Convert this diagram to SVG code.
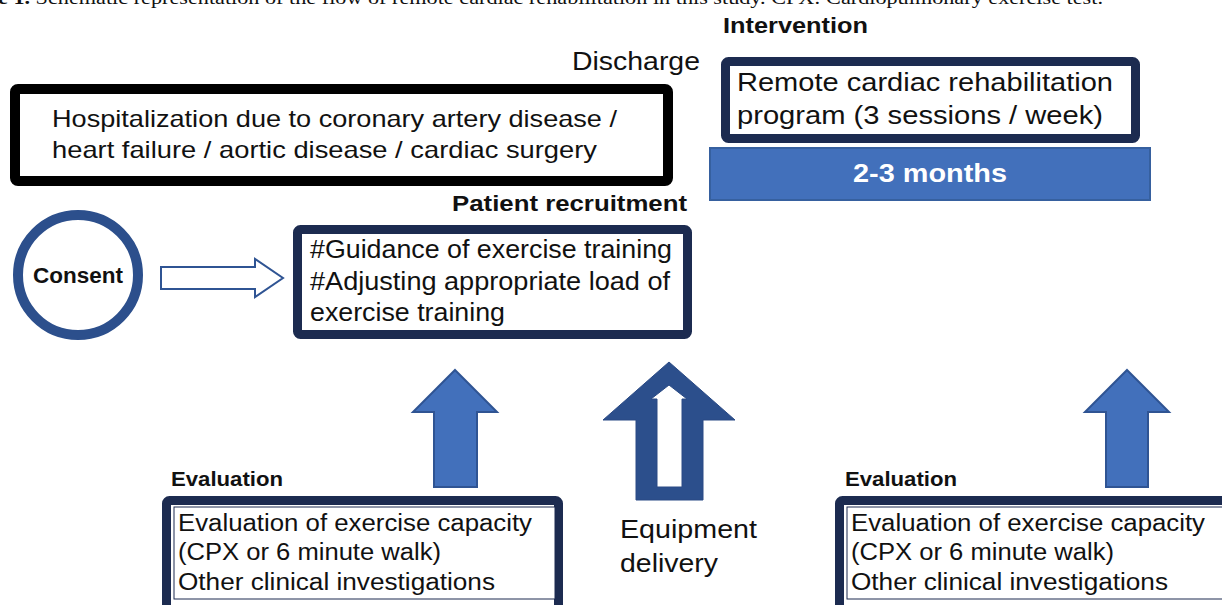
<svg xmlns="http://www.w3.org/2000/svg" width="1222" height="605" viewBox="0 0 1222 605">
<style>
.t{font-family:"Liberation Sans",Arial,sans-serif;fill:#111;}
.b{font-family:"Liberation Sans",Arial,sans-serif;font-weight:bold;fill:#111;}
.navy{fill:#fff;stroke:#1c2b50;stroke-width:9;}
.blk{fill:#fff;stroke:#000;stroke-width:10;}
.ar{fill:#4270bb;stroke:#2f5493;stroke-width:2;}
</style>
<rect width="1222" height="605" fill="#fff"/>
<text x="-2" y="4" font-family="'Liberation Serif',serif" font-size="19" fill="#111" textLength="1105" lengthAdjust="spacingAndGlyphs"><tspan font-weight="bold">e 1.</tspan> Schematic representation of the flow of remote cardiac rehabilitation in this study. CPX: Cardiopulmonary exercise test.</text>

<g id="labels">
<text class="b" x="723" y="33" font-size="22" textLength="145" lengthAdjust="spacingAndGlyphs">Intervention</text>
<text class="t" x="572" y="70" font-size="25" textLength="128" lengthAdjust="spacingAndGlyphs">Discharge</text>
<text class="b" x="452" y="211" font-size="22" textLength="235" lengthAdjust="spacingAndGlyphs">Patient recruitment</text>
<text class="b" x="171" y="486" font-size="20" textLength="112" lengthAdjust="spacingAndGlyphs">Evaluation</text>
<text class="b" x="845" y="486" font-size="20" textLength="112" lengthAdjust="spacingAndGlyphs">Evaluation</text>
<text class="t" x="620" y="538" font-size="25" textLength="137" lengthAdjust="spacingAndGlyphs">Equipment</text>
<text class="t" x="620" y="572" font-size="25" textLength="98" lengthAdjust="spacingAndGlyphs">delivery</text>
</g>

<g id="hospitalization">
<rect class="blk" x="15" y="89" width="653" height="92" rx="3"/>
<text class="t" x="52" y="127" font-size="24" textLength="565" lengthAdjust="spacingAndGlyphs">Hospitalization due to coronary artery disease /</text>
<text class="t" x="52" y="158" font-size="24" textLength="545" lengthAdjust="spacingAndGlyphs">heart failure / aortic disease / cardiac surgery</text>
</g>

<g id="program">
<rect class="navy" x="725.5" y="61.5" width="410" height="77" rx="3"/>
<text class="t" x="737" y="91" font-size="25" textLength="376" lengthAdjust="spacingAndGlyphs">Remote cardiac rehabilitation</text>
<text class="t" x="737" y="124" font-size="25" textLength="366" lengthAdjust="spacingAndGlyphs">program (3 sessions / week)</text>
</g>

<g id="duration">
<rect x="710" y="148" width="440" height="52" fill="#4270bb" stroke="#36609f" stroke-width="2"/>
<text class="b" x="930" y="182" font-size="25" style="fill:#fff" text-anchor="middle" textLength="154" lengthAdjust="spacingAndGlyphs">2-3 months</text>
</g>

<g id="consent">
<circle cx="78" cy="275" r="60" fill="#fff" stroke="#2c4f8c" stroke-width="10"/>
<text class="b" x="78" y="283" font-size="22" text-anchor="middle" textLength="90" lengthAdjust="spacingAndGlyphs">Consent</text>
</g>

<g id="guidance">
<rect class="navy" x="297.5" y="229.5" width="390" height="105" rx="3"/>
<text class="t" x="310" y="258" font-size="25" textLength="362" lengthAdjust="spacingAndGlyphs">#Guidance of exercise training</text>
<text class="t" x="310" y="290" font-size="25" textLength="360" lengthAdjust="spacingAndGlyphs">#Adjusting appropriate load of</text>
<text class="t" x="310" y="321" font-size="25" textLength="195" lengthAdjust="spacingAndGlyphs">exercise training</text>
</g>

<g id="evaluation1">
<rect class="navy" x="166.5" y="500.5" width="392" height="110" rx="3"/>
<rect x="174" y="507" width="381" height="92" fill="#fff" stroke="#1c2b50" stroke-width="1"/>
<text class="t" x="178" y="531" font-size="23" textLength="354" lengthAdjust="spacingAndGlyphs">Evaluation of exercise capacity</text>
<text class="t" x="178" y="560" font-size="23" textLength="263" lengthAdjust="spacingAndGlyphs">(CPX or 6 minute walk)</text>
<text class="t" x="178" y="590" font-size="23" textLength="317" lengthAdjust="spacingAndGlyphs">Other clinical investigations</text>
</g>

<g id="evaluation2">
<rect class="navy" x="839.5" y="500.5" width="400" height="110" rx="3"/>
<rect x="847" y="507" width="390" height="92" fill="#fff" stroke="#1c2b50" stroke-width="1"/>
<text class="t" x="851" y="531" font-size="23" textLength="354" lengthAdjust="spacingAndGlyphs">Evaluation of exercise capacity</text>
<text class="t" x="851" y="560" font-size="23" textLength="263" lengthAdjust="spacingAndGlyphs">(CPX or 6 minute walk)</text>
<text class="t" x="851" y="590" font-size="23" textLength="317" lengthAdjust="spacingAndGlyphs">Other clinical investigations</text>
</g>

<g id="connectors">
<path d="M161,267 H255 V259 L283,278 L255,297 V289 H161 Z" fill="#fff" stroke="#2f5493" stroke-width="2"/>
<path class="ar" d="M455,370 L497,412 H477 V487 H434 V412 H413 Z"/>
<path class="ar" d="M1127,370 L1169,412 H1148 V487 H1106 V412 H1085 Z"/>
<path d="M669,362 L735,420 H703 V500 H636 V420 H603 Z M669,385 L687,399 H682 V487 H657 V399 H651 Z" fill="#2c4f8c" fill-rule="evenodd" stroke="#2a4a85" stroke-width="1"/>
</g>
</svg>
